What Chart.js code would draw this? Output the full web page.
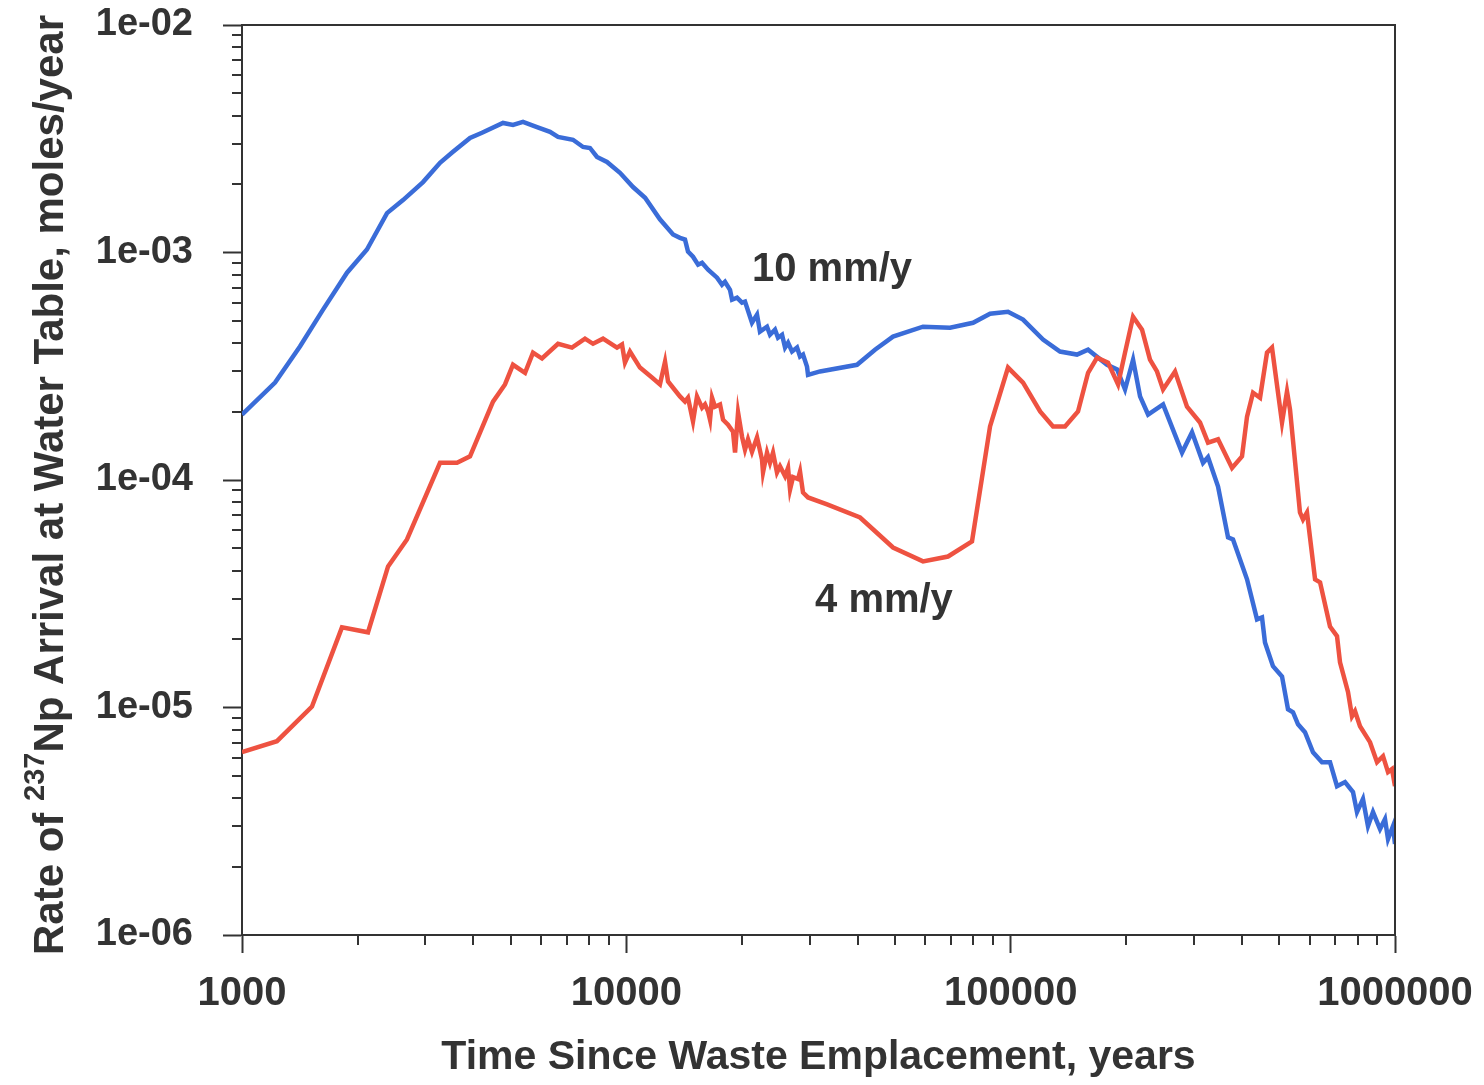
<!DOCTYPE html>
<html>
<head>
<meta charset="utf-8">
<script src="https://cdn.jsdelivr.net/npm/chart.js@4.4.1/dist/chart.umd.min.js"></script>
<style>
  html, body { margin: 0; padding: 0; background: #fff; }
</style>
</head>
<body>
<canvas id="graph" width="1484" height="1085"></canvas>
<script>
// time since emplacement (years) and rate (moles/year)
var years10 = [1000,1219,1415,1625,1876,2114,2384,2624,2958,3275,3540,3920,4212,4776,5071,5384,5855,6330,6641,7265,7716,8043,8388,8906,9627,10410,11190,12230,13230,13790,14210,14470,14910,15370,15740,16320,17220,17740,18060,18610,18840,19410,20000,20360,20980,21230,21880,22270,23230,23650,24370,24810,25420,25880,26350,26990,27810,28310,28820,29520,29700,31910,39830,44360,49420,59150,69540,79820,88380,98430,107700,121400,134400,148800,159000,178200,189200,198400,208200,217100,227800,249200,279200,296400,316600,326200,346400,367800,378900,412100,437500,450800,458900,481400,508200,526800,542800,559300,583200,611900,645800,677500,706500,741100,777500,796300,825400,850500,876500,914100,941900,959000,988100,1000000];
var rate10 = [1.94e-4,2.68e-4,3.86e-4,5.61e-4,8.15e-4,1.03e-3,1.49e-3,1.70e-3,2.04e-3,2.48e-3,2.77e-3,3.19e-3,3.36e-3,3.71e-3,3.64e-3,3.75e-3,3.56e-3,3.39e-3,3.22e-3,3.13e-3,2.91e-3,2.88e-3,2.63e-3,2.50e-3,2.24e-3,1.94e-3,1.74e-3,1.40e-3,1.20e-3,1.16e-3,1.14e-3,1.01e-3,9.58e-4,8.84e-4,9.02e-4,8.40e-4,7.75e-4,7.22e-4,7.44e-4,6.86e-4,6.20e-4,6.33e-4,6.02e-4,6.08e-4,5.22e-4,4.91e-4,5.33e-4,4.49e-4,4.72e-4,4.35e-4,4.58e-4,4.22e-4,4.35e-4,3.82e-4,4.01e-4,3.67e-4,3.82e-4,3.49e-4,3.56e-4,3.15e-4,2.90e-4,3.00e-4,3.21e-4,3.74e-4,4.27e-4,4.72e-4,4.67e-4,4.91e-4,5.38e-4,5.49e-4,5.07e-4,4.14e-4,3.67e-4,3.56e-4,3.74e-4,3.21e-4,3.06e-4,2.50e-4,3.38e-4,2.33e-4,1.94e-4,2.15e-4,1.32e-4,1.62e-4,1.19e-4,1.26e-4,9.36e-5,5.59e-5,5.48e-5,3.66e-5,2.44e-5,2.49e-5,1.93e-5,1.52e-5,1.37e-5,9.82e-6,9.53e-6,8.44e-6,7.79e-6,6.36e-6,5.75e-6,5.75e-6,4.51e-6,4.70e-6,4.25e-6,3.47e-6,3.96e-6,3.01e-6,3.47e-6,2.92e-6,3.23e-6,2.64e-6,3.01e-6,2.51e-6];

var years4 = [1000,1233,1521,1820,2127,2399,2687,3275,3626,3920,4499,4834,5071,5451,5717,6034,6641,7221,7807,8190,8697,9456,9743,9920,10220,10850,11660,12230,12610,12840,13790,14210,14470,14910,15270,15740,16020,16320,16510,16710,17010,17530,17850,18390,18950,19180,19530,20000,20360,20730,21230,21880,22540,22680,23230,23650,24080,24660,25110,25880,26350,26670,27150,27970,28310,28820,29700,33290,40560,49420,59150,68710,79320,88380,98430,107700,119300,128900,138500,149700,159000,167800,179200,190300,198400,208200,219700,230400,240300,249200,267700,287600,310900,326200,346400,376700,399900,412100,427200,445500,464500,478600,508200,523600,533100,565900,576300,590200,619500,638300,677500,706500,719300,754600,772900,787000,810900,860900,898000,930800,959000,982200,1000000];
var rate4 = [6.36e-6,7.11e-6,1.01e-5,2.25e-5,2.14e-5,4.17e-5,5.48e-5,1.19e-4,1.19e-4,1.27e-4,2.21e-4,2.63e-4,3.21e-4,2.96e-4,3.63e-4,3.42e-4,3.97e-4,3.82e-4,4.18e-4,3.97e-4,4.18e-4,3.82e-4,3.94e-4,3.28e-4,3.67e-4,3.12e-4,2.82e-4,2.63e-4,3.31e-4,2.71e-4,2.33e-4,2.21e-4,2.30e-4,1.81e-4,2.33e-4,2.08e-4,2.15e-4,2.00e-4,1.84e-4,2.30e-4,2.10e-4,2.15e-4,1.84e-4,1.75e-4,1.63e-4,1.32e-4,1.98e-4,1.55e-4,1.36e-4,1.51e-4,1.33e-4,1.54e-4,1.23e-4,1.08e-4,1.32e-4,1.19e-4,1.32e-4,1.08e-4,1.15e-4,1.04e-4,1.13e-4,9.08e-5,1.03e-4,1.01e-4,1.09e-4,8.81e-5,8.38e-5,7.81e-5,6.84e-5,5.05e-5,4.39e-5,4.61e-5,5.37e-5,1.72e-4,3.12e-4,2.68e-4,2.00e-4,1.72e-4,1.72e-4,2.00e-4,2.96e-4,3.45e-4,3.28e-4,2.63e-4,3.63e-4,5.22e-4,4.58e-4,3.38e-4,3.00e-4,2.50e-4,3.00e-4,2.10e-4,1.79e-4,1.46e-4,1.51e-4,1.13e-4,1.27e-4,1.90e-4,2.42e-4,2.30e-4,3.63e-4,3.82e-4,1.79e-4,2.45e-4,2.04e-4,7.20e-5,6.71e-5,7.20e-5,3.66e-5,3.55e-5,2.27e-5,2.06e-5,1.58e-5,1.17e-5,9.15e-6,9.63e-6,8.27e-6,7.04e-6,5.75e-6,6.11e-6,5.20e-6,5.36e-6,4.51e-6];

// axis ticks
var xTicks = [1000, 10000, 100000, 1000000];
var xTickLabels = ['1000', '10000', '100000', '1000000'];
var yTicks = [1e-6, 1e-5, 1e-4, 1e-3, 1e-2];
var yTickLabels = ['1e-06', '1e-05', '1e-04', '1e-03', '1e-02'];

// curve labels (anchor in data units)
var curveLabels = [
  { text: '10 mm/y', x: 21230, y: 8.4e-4 },
  { text: '4 mm/y', x: 30970, y: 2.93e-5 }
];

var INK = '#333333';
var FONT = '"Liberation Sans", Arial, sans-serif';

function toPoints(xs, ys) {
  return xs.map(function (x, i) { return { x: x, y: ys[i] }; });
}

// minor ticks, plot frame, curve labels and the y title with superscript
var decorations = {
  id: 'decorations',
  afterDraw: function (chart) {
    var ctx = chart.ctx, a = chart.chartArea;
    var xs = chart.scales.x, ys = chart.scales.y;
    ctx.save();
    ctx.strokeStyle = INK;
    ctx.lineWidth = 2;
    ctx.beginPath();
    for (var e = 3; e < 6; e++) {
      for (var k = 2; k <= 9; k++) {
        var px = Math.round(xs.getPixelForValue(k * Math.pow(10, e)));
        ctx.moveTo(px, a.bottom);
        ctx.lineTo(px, a.bottom + 10);
      }
    }
    for (var e2 = -6; e2 < -2; e2++) {
      for (var k2 = 2; k2 <= 9; k2++) {
        var py = Math.round(ys.getPixelForValue(k2 * Math.pow(10, e2)));
        ctx.moveTo(a.left, py);
        ctx.lineTo(a.left - 10, py);
      }
    }
    // top and right sides of the box
    ctx.moveTo(a.left, a.top);
    ctx.lineTo(a.right, a.top);
    ctx.lineTo(a.right, a.bottom);
    ctx.stroke();

    ctx.fillStyle = INK;
    ctx.textBaseline = 'middle';
    ctx.textAlign = 'left';
    ctx.font = 'bold 40px ' + FONT;
    curveLabels.forEach(function (l) {
      ctx.fillText(l.text, xs.getPixelForValue(l.x), ys.getPixelForValue(l.y));
    });

    // rotated y title
    var parts = [
      { t: 'Rate of ', size: 42, dy: 0 },
      { t: '237', size: 29, dy: -15 },
      { t: 'Np Arrival at Water Table, moles/year', size: 42, dy: 0 }
    ];
    var total = 0;
    parts.forEach(function (p) {
      ctx.font = 'bold ' + p.size + 'px ' + FONT;
      p.w = ctx.measureText(p.t).width;
      total += p.w;
    });
    ctx.translate(51, 485);
    ctx.rotate(-Math.PI / 2);
    var cx = -total / 2;
    parts.forEach(function (p) {
      ctx.font = 'bold ' + p.size + 'px ' + FONT;
      ctx.fillText(p.t, cx, p.dy);
      cx += p.w;
    });
    ctx.restore();
  }
};

var ctx = document.getElementById('graph').getContext('2d');
new Chart(ctx, {
  type: 'line',
  data: {
    datasets: [
      {
        label: '4 mm/y',
        data: toPoints(years4, rate4),
        borderColor: '#ee5241',
        borderWidth: 4.5,
        pointRadius: 0,
        tension: 0,
        fill: false
      },
      {
        label: '10 mm/y',
        data: toPoints(years10, rate10),
        borderColor: '#3a6cd8',
        borderWidth: 4.5,
        pointRadius: 0,
        tension: 0,
        fill: false
      }
    ]
  },
  options: {
    responsive: false,
    animation: false,
    layout: { padding: { top: 25, right: 89, bottom: 0, left: 0 } },
    plugins: {
      legend: { display: false },
      tooltip: { enabled: false }
    },
    scales: {
      x: {
        type: 'logarithmic',
        min: 1000,
        max: 1000000,
        afterFit: function (s) {
          s.height = 150;
          s.paddingLeft = 0;
          s.paddingRight = 0;
        },
        afterBuildTicks: function (s) { s.ticks = xTicks.map(function (v) { return { value: v }; }); },
        border: { display: true, color: INK, width: 2 },
        grid: { drawOnChartArea: false, drawTicks: true, tickLength: 18, tickColor: INK, tickWidth: 2 },
        ticks: {
          autoSkip: false,
          maxRotation: 0,
          padding: 17,
          color: INK,
          font: { family: FONT, size: 40, weight: 'bold' },
          callback: function (v) { return xTickLabels[xTicks.indexOf(v)]; }
        },
        title: {
          display: true,
          text: 'Time Since Waste Emplacement, years',
          color: INK,
          font: { family: FONT, size: 41, weight: 'bold' },
          padding: { top: 0, bottom: 3 }
        }
      },
      y: {
        type: 'logarithmic',
        min: 1e-6,
        max: 1e-2,
        afterFit: function (s) {
          s.width = 242;
          s.paddingTop = 0;
          s.paddingBottom = 0;
        },
        afterBuildTicks: function (s) { s.ticks = yTicks.map(function (v) { return { value: v }; }); },
        border: { display: true, color: INK, width: 2 },
        grid: { drawOnChartArea: false, drawTicks: true, tickLength: 19, tickColor: INK, tickWidth: 2 },
        ticks: {
          autoSkip: false,
          padding: 30,
          color: INK,
          font: { family: FONT, size: 38, weight: 'bold' },
          callback: function (v) {
            var i = yTicks.findIndex(function (t) { return Math.abs(t - v) / t < 1e-6; });
            return i >= 0 ? yTickLabels[i] : '';
          }
        }
      }
    }
  },
  plugins: [decorations]
});
</script>
</body>
</html>
